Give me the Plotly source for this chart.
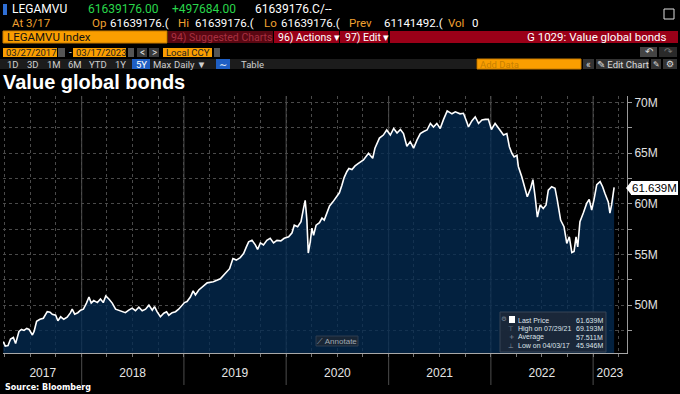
import plotly.graph_objects as go
import pandas as pd

# ---------------- data ----------------
dates = [
    "2017-03-27", "2017-04-03", "2017-04-13", "2017-04-22", "2017-05-02", "2017-05-10", "2017-05-22", "2017-05-31",
    "2017-06-09", "2017-06-19", "2017-06-27", "2017-07-09", "2017-07-15", "2017-07-24", "2017-08-05", "2017-08-17",
    "2017-08-31", "2017-09-10", "2017-09-18", "2017-09-30", "2017-10-08", "2017-10-18", "2017-10-29", "2017-11-10",
    "2017-11-22", "2017-11-28", "2017-12-07", "2017-12-18", "2017-12-28",
    "2018-01-07", "2018-01-18", "2018-01-27", "2018-02-04", "2018-02-13", "2018-02-26", "2018-03-09", "2018-03-19",
    "2018-03-28", "2018-04-08", "2018-04-20", "2018-05-02", "2018-05-14", "2018-05-26", "2018-06-06", "2018-06-18",
    "2018-06-30", "2018-07-12", "2018-07-24", "2018-08-05", "2018-08-17", "2018-08-29", "2018-09-10", "2018-09-18",
    "2018-09-27", "2018-10-09", "2018-10-21", "2018-10-31", "2018-11-08", "2018-11-20", "2018-12-02", "2018-12-13",
    "2018-12-26",
    "2019-01-03", "2019-01-12", "2019-01-24", "2019-02-03", "2019-02-11", "2019-02-23", "2019-03-25", "2019-04-16",
    "2019-05-11", "2019-05-29", "2019-06-13", "2019-06-25", "2019-07-07", "2019-07-21", "2019-08-02", "2019-08-12",
    "2019-08-20", "2019-09-01", "2019-09-13", "2019-09-21", "2019-10-01", "2019-10-12", "2019-10-24", "2019-11-05",
    "2019-11-17", "2019-11-29", "2019-12-13", "2019-12-25",
    "2020-01-10", "2020-01-22", "2020-01-30", "2020-02-11", "2020-02-23", "2020-03-03", "2020-03-09", "2020-03-15",
    "2020-03-20", "2020-03-27", "2020-04-02", "2020-04-08", "2020-04-17", "2020-04-29", "2020-05-08", "2020-05-16",
    "2020-05-26", "2020-06-04", "2020-06-16", "2020-06-28", "2020-07-09", "2020-07-18", "2020-07-26", "2020-08-05",
    "2020-08-12", "2020-08-23", "2020-09-03", "2020-09-15", "2020-10-03", "2020-10-21", "2020-11-05", "2020-11-13",
    "2020-11-29", "2020-12-13", "2020-12-25",
    "2021-01-07", "2021-01-19", "2021-01-31", "2021-02-12", "2021-02-23", "2021-03-07", "2021-03-19", "2021-03-31",
    "2021-04-12", "2021-04-24", "2021-05-06", "2021-05-18", "2021-05-30", "2021-06-10", "2021-06-22", "2021-07-04",
    "2021-07-16", "2021-07-29", "2021-08-15", "2021-08-27", "2021-09-13", "2021-09-25", "2021-10-07", "2021-10-13",
    "2021-10-25", "2021-11-06", "2021-11-18", "2021-11-30", "2021-12-12", "2021-12-23",
    "2022-01-03", "2022-01-16", "2022-02-01", "2022-02-15", "2022-02-27", "2022-03-08", "2022-03-17", "2022-03-25",
    "2022-04-04", "2022-04-09", "2022-04-21", "2022-05-03", "2022-05-11", "2022-05-23", "2022-05-31", "2022-06-08",
    "2022-06-16", "2022-06-26", "2022-07-07", "2022-07-17", "2022-07-25", "2022-08-06", "2022-08-18", "2022-08-26",
    "2022-09-07", "2022-09-19", "2022-09-29", "2022-10-08", "2022-10-17", "2022-10-25", "2022-11-01", "2022-11-07",
    "2022-11-15", "2022-11-27", "2022-12-09", "2022-12-18", "2022-12-27",
    "2023-01-04", "2023-01-14", "2023-01-26", "2023-02-04", "2023-02-12", "2023-02-24", "2023-03-02", "2023-03-08",
    "2023-03-17",
]
values_m = [
    46.4, 45.946, 46.0, 46.65, 46.8, 46.2, 47.4, 47.6,
    47.5, 47.7, 47.6, 47.05, 47.4, 48.4, 48.6, 48.7,
    49.35, 49.3, 49.1, 49.0, 48.45, 48.85, 48.6, 48.8,
    49.25, 49.6, 49.1, 49.25, 49.5,
    49.6, 50.2, 50.8, 50.2, 50.45, 50.25, 50.6, 50.25,
    50.9, 50.6, 50.2, 49.6, 49.5, 49.35, 49.25, 49.5,
    49.7, 49.45, 49.8, 49.45, 49.6, 50.0, 49.5, 49.85,
    49.35, 48.85, 49.2, 49.35, 49.0, 49.25, 49.35, 49.6,
    50.0,
    50.25, 50.35, 50.8, 51.4, 51.0, 51.5, 52.2, 52.3,
    52.6, 53.15, 53.6, 54.6, 54.45, 54.7, 55.1, 55.75,
    56.25, 56.4, 55.95, 55.5, 56.15, 55.95, 56.4, 56.6,
    56.15, 56.4, 56.35, 56.6,
    56.75, 57.15, 57.9, 57.75, 58.25, 59.55, 60.35, 58.4,
    55.15, 56.25, 57.6, 56.9, 57.9, 58.15, 58.6, 58.4,
    59.2, 59.8, 60.2, 60.7, 61.1, 61.85, 62.6, 63.2,
    63.5, 63.4, 63.75, 64.0, 64.35, 65.0, 64.5, 65.5,
    66.5, 66.8, 67.3,
    66.8, 67.45, 67.0, 67.35, 66.95, 65.7, 66.15, 65.5,
    66.3, 66.95, 67.15, 67.3, 67.95, 67.6, 67.95, 67.45,
    68.35, 69.193, 68.9, 69.1, 68.9, 68.95, 68.1, 67.6,
    68.2, 68.6, 67.95, 68.3, 68.35, 68.35,
    67.35, 67.95, 67.35, 66.8, 66.95, 65.65, 65.0, 64.65,
    64.8, 63.7, 62.7, 61.55, 60.7, 61.55, 62.4, 60.7,
    58.7, 59.9, 59.55, 59.9, 61.35, 61.7, 61.55, 60.4,
    58.4, 57.75, 56.1, 56.75, 55.2, 55.3, 56.75, 55.75,
    58.25, 59.1, 60.05, 60.45, 59.4,
    60.4, 61.9, 62.2, 61.7, 61.05, 60.2, 59.1, 59.9,
    61.639,
]

y_tick_vals = [47.5, 50, 52.5, 55, 57.5, 60, 62.5, 65, 67.5, 70]
y_tick_text = ["", "50M", "", "55M", "", "60M", "", "65M", "", "70M"]
year_labels = ["2017", "2018", "2019", "2020", "2021", "2022", "2023"]
year_label_dates = ["2017-08-15", "2018-07-02", "2019-07-02", "2020-07-02", "2021-07-02", "2022-07-02", "2023-03-02"]
year_starts = ["2018-01-01", "2019-01-01", "2020-01-01", "2021-01-01", "2022-01-01", "2023-01-01"]
last_price_label = "61.639M"
legend_rows = [("Last Price", "61.639M"), ("High on 07/29/21", "69.193M"),
               ("Average", "57.511M"), ("Low on 04/03/17", "45.946M")]

# ---------------- layout helpers ----------------
W, H = 680, 394
shapes = []
annotations = []
HF = "Roboto, Liberation Sans, Arial, sans-serif"
AF = "Liberation Sans, Arial, sans-serif"


def rect(x0, y0, x1, y1, fill, line=None, layer="above"):
    shapes.append(dict(type="rect", xref="paper", yref="paper",
                       x0=x0 / W, x1=x1 / W, y0=1 - y1 / H, y1=1 - y0 / H,
                       fillcolor=fill, layer=layer,
                       line=dict(width=1 if line else 0, color=line or fill)))


def txt(x, y, s, color, size=12, anchor="left", bold=False, family=HF):
    if bold:
        s = "<b>" + s + "</b>"
    annotations.append(dict(x=x / W, y=1 - y / H, xref="paper", yref="paper", text=s,
                            showarrow=False, xanchor=anchor, yanchor="middle",
                            font=dict(color=color, size=size, family=family), borderpad=0))


ORANGE_T = "#f0a030"
GREEN = "#29d64b"
ORANGE_BOX = "#fa9e00"
RED = "#9a0018"

# Row 1
rect(3, 4, 7, 15, "#2f6fd6")
txt(11, 9, "LEGAMVU", "#ffffff", 12)
txt(87, 9, "61639176.00", GREEN, 12)
txt(171, 9, "+497684.00", GREEN, 12)
txt(254, 9, "61639176.C/--", "#ffffff", 12)
# Row 2
txt(11, 23, "At 3/17", ORANGE_T, 11.5)
txt(91, 23, "Op", ORANGE_T, 11.5)
txt(109, 23, "61639176.(", "#ffffff", 11.5)
txt(177, 23, "Hi", ORANGE_T, 11.5)
txt(194, 23, "61639176.(", "#ffffff", 11.5)
txt(263, 23, "Lo", ORANGE_T, 11.5)
txt(280, 23, "61639176.(", "#ffffff", 11.5)
txt(348, 23, "Prev", ORANGE_T, 11.5)
txt(383, 23, "61141492.(", "#ffffff", 11.5)
txt(447, 23, "Vol", ORANGE_T, 11.5)
txt(471, 23, "0", "#ffffff", 11.5)
rect(664, 9, 674, 19, "rgba(0,0,0,0)", "#dddddd")
# Row 3
rect(3, 31, 167, 43, ORANGE_BOX, "#c77a00")
txt(6, 37, "LEGAMVU Index", "#111111", 11.5)
rect(168, 31, 273, 43, "#5a0712")
txt(170, 37, "94) Suggested Charts", "#a83040", 10.5)
rect(274, 31, 339, 43, RED)
txt(277, 37, "96) Actions ▾", "#ffffff", 10.5)
rect(340, 31, 388, 43, RED)
txt(344, 37, "97) Edit ▾", "#ffffff", 10.5)
rect(390, 31, 678, 43, RED)
txt(668, 37, "G 1029: Value global bonds", "#ffffff", 11.5, anchor="right")
# Row 4
rect(3, 48, 57, 57, ORANGE_BOX)
txt(5, 52.5, "03/27/2017", "#222222", 9.5)
rect(58, 48, 65, 57, "#555555")
txt(68, 52.5, "-", "#cccccc", 10)
rect(73, 48, 126, 57, ORANGE_BOX)
txt(75, 52.5, "03/17/2023", "#222222", 9.5)
rect(128, 48, 134, 57, "#555555")
rect(137, 48, 147, 57, "#3a3a3a")
txt(142, 52.5, "<", "#dddddd", 10, anchor="center")
rect(149, 48, 159, 57, "#3a3a3a")
txt(154, 52.5, ">", "#dddddd", 10, anchor="center")
rect(163, 48, 212, 57, ORANGE_BOX)
txt(165, 52.5, "Local CCY", "#222222", 9.5)
rect(214, 48, 220, 57, "#555555")
rect(640, 47, 657, 57, "#444444")
txt(648.5, 52, "↶", "#dddddd", 10, anchor="center", family="DejaVu Sans")
rect(659, 47, 677, 57, "#2a2a2a")
txt(668, 52, "↷", "#777777", 10, anchor="center", family="DejaVu Sans")
# Row 5
rect(0, 59, 476, 69, "#1c1c1c")
for lbl, xc in [("1D", 13), ("3D", 33), ("1M", 54), ("6M", 75), ("YTD", 98), ("1Y", 120),
                ("Max", 162), ("Daily ▼", 190), ("Table", 252)]:
    txt(xc, 64, lbl, "#cfcfcf", 9.5, anchor="center")
rect(132, 59, 150, 69, "#1f5fc4")
txt(141, 64, "5Y", "#ffffff", 9.5, anchor="center")
rect(216, 59, 230, 69, "#1f5fc4")
txt(223, 64, "∼", "#ffffff", 10, anchor="center", family="DejaVu Sans")
rect(477, 59, 581, 69, ORANGE_BOX, "#c77a00")
txt(479, 64, "Add Data", "#c88000", 9.5)
rect(583, 59, 594, 69, "#333333")
txt(588.5, 64, "«", "#dddddd", 10, anchor="center")
rect(596, 59, 649, 69, "#333333")
txt(622.5, 64, "✎ Edit Chart", "#dddddd", 9.5, anchor="center")
rect(651, 59, 661, 69, "#333333")
txt(656, 64, "✎", "#dddddd", 8, anchor="center", family="DejaVu Sans")
rect(663, 59, 677, 69, "#333333")
txt(670, 64, "⚙", "#dddddd", 9, anchor="center", family="DejaVu Sans")

# Title
txt(2, 82, "Value global bonds", "#ffffff", 20, bold=True, family=AF)

# Year separators (extend below the axis)
for d in year_starts:
    shapes.append(dict(type="line", xref="x", yref="paper", x0=d, x1=d,
                       y0=1 - 385 / H, y1=1 - 96 / H, layer="between",
                       line=dict(color="#4d4d4d", width=1)))

# Last price tag
rect(631, 181, 678, 195, "#ffffff")
p0 = (626 / W, 1 - 188 / H)
p1 = (631.5 / W, 1 - 181 / H)
p2 = (631.5 / W, 1 - 195 / H)
shapes.append(dict(type="path", xref="paper", yref="paper",
                   path=f"M {p0[0]} {p0[1]} L {p1[0]} {p1[1]} L {p2[0]} {p2[1]} Z",
                   fillcolor="#ffffff", line=dict(width=0), layer="above"))
txt(654.5, 188, last_price_label, "#000000", 11.5, anchor="center", family=AF)

# Annotate button
rect(316, 336, 358, 346, "#182636", "#2c3c50")
txt(337, 341, "⟋ Annotate", "#a0aab4", 8, anchor="center", family=AF)

# Stats legend box
rect(500, 312, 606, 352, "rgba(28,40,56,0.92)", "#364556")
row_y = [320, 328.5, 337, 345.5]
rect(509, 316, 515, 323, "#ffffff")
txt(504, 319, "⚙", "#7a8694", 6.5, anchor="center", family="DejaVu Sans")
for sym, yy in zip(["⊤", "+", "⊥"], row_y[1:]):
    txt(511, yy, sym, "#8a96a4", 6.5, anchor="center", family="DejaVu Sans")
for (lab, val), yy in zip(legend_rows, row_y):
    txt(517, yy, lab, "#dde3ea", 7, family=AF)
    txt(604, yy, val, "#dde3ea", 7, anchor="right", family=AF)

# Source
txt(4, 387, "Source: Bloomberg", "#ffffff", 8, bold=True, family="DejaVu Sans, sans-serif")

# ---------------- figure ----------------
quarters = [d.strftime("%Y-%m-%d") for d in pd.date_range("2017-04-01", "2023-04-01", freq="QS")]

fig = go.Figure()
fig.add_trace(go.Scatter(
    x=dates, y=values_m, mode="lines",
    line=dict(color="#ffffff", width=1.6),
    fill="tozeroy", fillcolor="rgba(4,43,83,0.76)",
    hoverinfo="skip", showlegend=False,
))

fig.update_layout(
    width=W, height=H,
    margin=dict(l=0, r=0, t=0, b=0),
    paper_bgcolor="#000000", plot_bgcolor="#000000",
    showlegend=False,
    shapes=shapes, annotations=annotations,
    xaxis=dict(
        domain=[3 / W, 627 / W],
        range=["2017-03-26", "2023-05-02"],
        type="date",
        tickmode="array", tickvals=year_label_dates, ticktext=year_labels,
        ticks="outside", ticklen=9, tickcolor="rgba(0,0,0,0)",
        tickfont=dict(color="#e6e6e6", size=12, family=AF),
        showgrid=False, zeroline=False,
        showline=True, linecolor="#a8a8a8", linewidth=1,
        minor=dict(tickmode="array", tickvals=quarters, showgrid=True, gridcolor="#4a4a4a",
                   griddash="dot", gridwidth=1, ticks="outside", ticklen=3, tickcolor="#777777"),
        fixedrange=True,
    ),
    yaxis=dict(
        domain=[1 - 353 / H, 1 - 96 / H],
        range=[45.27, 70.66],
        side="right",
        tickmode="array", tickvals=y_tick_vals, ticktext=y_tick_text,
        ticks="outside", ticklen=4, tickcolor="#9a9a9a",
        tickfont=dict(color="#e0e0e0", size=12, family=AF),
        showgrid=True, gridcolor="#4a4a4a", griddash="dot", gridwidth=1,
        showline=True, linecolor="#9a9a9a", linewidth=1,
        zeroline=False, fixedrange=True,
    ),
)

fig.write_html("out.html", config={"displayModeBar": False},
               post_script="document.body.style.margin='0';document.body.style.overflow='hidden';")
